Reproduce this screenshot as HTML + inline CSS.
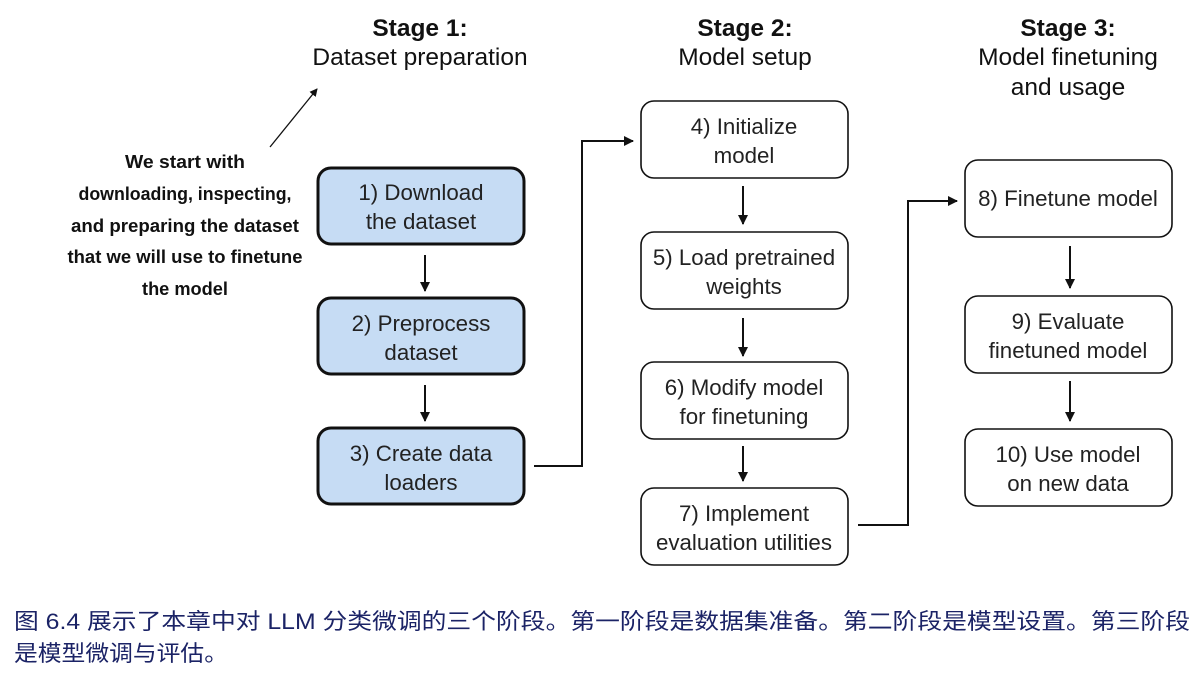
<!DOCTYPE html>
<html><head><meta charset="utf-8"><style>
html,body{margin:0;padding:0;background:#fff;}
svg{display:block;}
.h{font-family:"Liberation Sans",sans-serif;font-size:24.5px;fill:#111;text-anchor:middle;}
.b{font-weight:bold;}
.t{font-family:"Liberation Sans",sans-serif;font-size:22.3px;fill:#222;text-anchor:middle;}
.n{font-family:"Liberation Sans",sans-serif;font-size:18px;font-weight:bold;fill:#111;text-anchor:middle;}
.c{font-family:"Liberation Sans","Noto Sans CJK SC",sans-serif;font-size:22px;fill:#1b2366;}
</style></head><body>
<svg width="1195" height="681" viewBox="0 0 1195 681" xmlns="http://www.w3.org/2000/svg">
<defs><marker id="a" markerWidth="10" markerHeight="10" refX="9" refY="5" orient="auto" markerUnits="userSpaceOnUse"><path d="M0,0 L10,5 L0,10 z" fill="#111"/></marker>
<marker id="s" markerWidth="8" markerHeight="8" refX="7" refY="4" orient="auto" markerUnits="userSpaceOnUse"><path d="M0,0 L8,4 L0,8 z" fill="#111"/></marker></defs>
<text class="h b" x="420" y="36">Stage 1:</text>
<text class="h" x="420" y="65">Dataset preparation</text>
<text class="h b" x="745" y="36">Stage 2:</text>
<text class="h" x="745" y="65">Model setup</text>
<text class="h b" x="1068" y="36">Stage 3:</text>
<text class="h" x="1068" y="65">Model finetuning</text>
<text class="h" x="1068" y="95">and usage</text>
<line x1="270" y1="147" x2="317" y2="89" stroke="#111" stroke-width="1.3" marker-end="url(#s)"/>
<text class="n" x="185" y="168" textLength="120" lengthAdjust="spacingAndGlyphs">We start with</text>
<text class="n" x="185" y="200" textLength="213" lengthAdjust="spacingAndGlyphs">downloading, inspecting,</text>
<text class="n" x="185" y="232" textLength="228" lengthAdjust="spacingAndGlyphs">and preparing the dataset</text>
<text class="n" x="185" y="263" textLength="235" lengthAdjust="spacingAndGlyphs">that we will use to finetune</text>
<text class="n" x="185" y="295" textLength="86" lengthAdjust="spacingAndGlyphs">the model</text>
<g stroke="#111" stroke-width="3" fill="#c6dcf4">
<rect x="318" y="168" width="206" height="76" rx="13"/>
<rect x="318" y="298" width="206" height="76" rx="13"/>
<rect x="318" y="428" width="206" height="76" rx="13"/>
</g>
<g stroke="#111" stroke-width="1.6" fill="#fff">
<rect x="641" y="101" width="207" height="77" rx="13"/>
<rect x="641" y="232" width="207" height="77" rx="13"/>
<rect x="641" y="362" width="207" height="77" rx="13"/>
<rect x="641" y="488" width="207" height="77" rx="13"/>
<rect x="965" y="160" width="207" height="77" rx="13"/>
<rect x="965" y="296" width="207" height="77" rx="13"/>
<rect x="965" y="429" width="207" height="77" rx="13"/>
</g>
<text class="t" x="421" y="200">1) Download</text><text class="t" x="421" y="229">the dataset</text>
<text class="t" x="421" y="331">2) Preprocess</text><text class="t" x="421" y="360">dataset</text>
<text class="t" x="421" y="461">3) Create data</text><text class="t" x="421" y="490">loaders</text>
<text class="t" x="744" y="134">4) Initialize</text><text class="t" x="744" y="163">model</text>
<text class="t" x="744" y="265">5) Load pretrained</text><text class="t" x="744" y="294">weights</text>
<text class="t" x="744" y="395">6) Modify model</text><text class="t" x="744" y="424">for finetuning</text>
<text class="t" x="744" y="521">7) Implement</text><text class="t" x="744" y="550">evaluation utilities</text>
<text class="t" x="1068" y="206">8) Finetune model</text>
<text class="t" x="1068" y="329">9) Evaluate</text><text class="t" x="1068" y="358">finetuned model</text>
<text class="t" x="1068" y="462">10) Use model</text><text class="t" x="1068" y="491">on new data</text>
<g stroke="#111" stroke-width="2" fill="none">
<line x1="425" y1="255" x2="425" y2="291" marker-end="url(#a)"/>
<line x1="425" y1="385" x2="425" y2="421" marker-end="url(#a)"/>
<line x1="743" y1="186" x2="743" y2="224" marker-end="url(#a)"/>
<line x1="743" y1="318" x2="743" y2="356" marker-end="url(#a)"/>
<line x1="743" y1="446" x2="743" y2="481" marker-end="url(#a)"/>
<line x1="1070" y1="246" x2="1070" y2="288" marker-end="url(#a)"/>
<line x1="1070" y1="381" x2="1070" y2="421" marker-end="url(#a)"/>
<polyline points="534,466 582,466 582,141 633,141" marker-end="url(#a)"/>
<polyline points="858,525 908,525 908,201 957,201" marker-end="url(#a)"/>
</g>
<text class="c" x="14" y="629" textLength="1176" lengthAdjust="spacingAndGlyphs">图 6.4 展示了本章中对 LLM 分类微调的三个阶段。第一阶段是数据集准备。第二阶段是模型设置。第三阶段</text>
<text class="c" x="14" y="661" textLength="214" lengthAdjust="spacingAndGlyphs">是模型微调与评估。</text>
</svg>
</body></html>
